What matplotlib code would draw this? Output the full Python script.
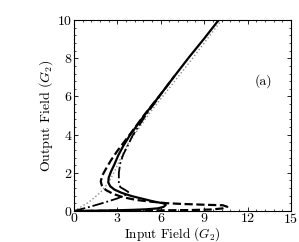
import matplotlib
matplotlib.use('Agg')
import matplotlib.pyplot as plt
from matplotlib.ticker import AutoMinorLocator

plt.rcParams['font.family'] = ['cmr10', 'DejaVu Serif']
plt.rcParams['mathtext.fontset'] = 'cm'
plt.rcParams['axes.formatter.use_mathtext'] = True

# curves: input field (x) vs output field (y)
solid_x = [0, 1, 2, 3, 4, 5, 5.8, 6.2, 6.35, 6.2, 5.5, 4.7, 4.0, 3.3, 2.8, 2.5, 2.37,
           2.4, 2.55, 2.8, 3.05, 3.4, 3.85, 4.9, 5.95, 6.95, 7.95, 9.0, 10.0]
solid_y = [0, 0.01, 0.025, 0.04, 0.06, 0.09, 0.14, 0.22, 0.32, 0.40, 0.5, 0.65, 0.78, 0.95,
           1.12, 1.3, 1.5, 1.75, 2.05, 2.45, 2.9, 3.4, 3.95, 5.05, 6.07, 7.07, 8.05, 9.03, 10.0]

dashed_x = [0, 2, 4, 6, 8, 9.5, 10.3, 10.6, 10.3, 9.0, 7.5, 6.4, 5.2, 4.3, 3.4, 2.7, 2.2,
            1.92, 1.85, 1.95, 2.2, 2.55, 3.0, 3.45, 3.9, 4.9, 5.95, 6.95]
dashed_y = [0, 0.01, 0.02, 0.035, 0.05, 0.08, 0.14, 0.22, 0.30, 0.33, 0.37, 0.41, 0.5, 0.58,
            0.72, 0.9, 1.1, 1.35, 1.55, 1.85, 2.2, 2.65, 3.15, 3.6, 4.05, 5.07, 6.07, 7.07]

dashdot_x = [0, 1, 2, 3, 3.6, 3.75, 3.5, 3.2, 3.1, 3.1, 3.2, 3.4, 3.7, 4.05, 4.95, 5.95]
dashdot_y = [0, 0.2, 0.42, 0.66, 0.85, 1.0, 1.12, 1.25, 1.5, 2.0, 2.5, 2.95, 3.4, 3.95, 5.0, 6.03]

dotted_x = [0, 1, 1.8, 2.4, 2.85, 3.25, 3.75, 4.45, 5.4, 6.6, 8.1, 10.2]
dotted_y = [0, 0.45, 0.95, 1.5, 2.15, 2.8, 3.55, 4.3, 5.3, 6.45, 7.9, 10.0]

fig = plt.figure(figsize=(2.99, 2.42), dpi=100)
ax = fig.add_axes([0.2475, 0.128, 0.7255, 0.789])

ax.plot(dotted_x, dotted_y, color='0.55', ls=':', lw=1.0)
ax.plot(dashdot_x, dashdot_y, color='k', ls='-.', lw=1.3)
ax.plot(dashed_x, dashed_y, color='k', ls='--', lw=1.6)
ax.plot(solid_x, solid_y, color='k', ls='-', lw=1.6)

ax.set_xlim(0, 15)
ax.set_ylim(0, 10)
ax.set_xticks([0, 3, 6, 9, 12, 15])
ax.set_yticks([0, 2, 4, 6, 8, 10])
ax.xaxis.set_minor_locator(AutoMinorLocator(5))
ax.yaxis.set_minor_locator(AutoMinorLocator(5))
ax.tick_params(which='both', direction='in', top=True, right=True, labelsize=10, pad=1)
ax.tick_params(which='major', length=3, width=0.6)
ax.tick_params(which='minor', length=1.5, width=0.5)
for s in ax.spines.values():
    s.set_linewidth(0.8)

ax.set_xlabel(r'Input Field ($G_2$)', fontsize=9.5)
ax.xaxis.set_label_coords(0.452, -0.072)
ax.set_ylabel(r'Output Field ($G_2$)', fontsize=10, labelpad=2)
ax.text(13.1, 6.8, '(a)', fontsize=10, ha='center', va='center')

fig.savefig('out.png', dpi=100)
